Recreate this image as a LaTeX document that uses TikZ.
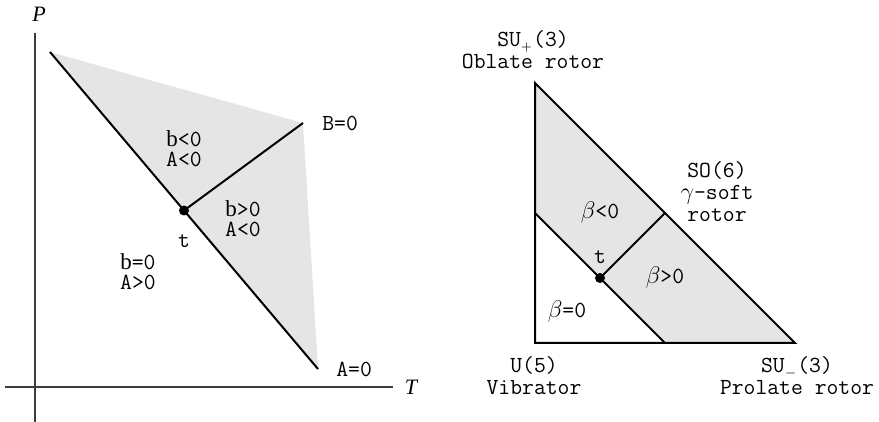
\documentclass[tikz,border=0pt]{standalone}
\usepackage{fontspec}
\newfontfamily\timesfont{Liberation Serif}
\usetikzlibrary{positioning,calc}
\definecolor{RegionGray}{RGB}{229,229,229}
\definecolor{AxisGray}{RGB}{60,60,60}

\begin{document}
\begin{tikzpicture}[x=0.5pt,y=-0.5pt, every node/.style={font=\fontsize{11.5}{11}\selectfont\ttfamily, align=center, inner sep=0pt}]
\tikzset{
  border/.style={line width=1pt, black},
  axis/.style={line width=0.8pt, AxisGray},
  region/.style={fill=RegionGray, draw=none},
  tpoint/.style={circle, fill=black, minimum size=5pt, inner sep=0pt},
  tight/.style={font=\fontsize{11.5}{10}\selectfont\ttfamily}
}
  \path[use as bounding box] (0,0) rectangle (879,422);

  % left: P--T plane
  \coordinate (Ptop) at (35,33);
  \coordinate (Pbot) at (35,422);
  \coordinate (Tleft) at (5,387);
  \coordinate (Tright) at (393,387);
  \coordinate (upper) at (50,52);
  \coordinate (B0) at (303,123);
  \coordinate (A0) at (318,369);
  \fill[region] (upper) -- (B0) -- (A0) -- cycle;
  \draw[axis] (Ptop) -- (Pbot);
  \draw[axis] (Tleft) -- (Tright);
  \node[tpoint] (t1) at ($(upper)!0.5!(A0)$) {};
  \draw[border] (upper) -- (A0);
  \draw[border] (t1.center) -- (B0);

  \node (Plabel) at (39,14) {\fontsize{11}{11}\timesfont\itshape P};
  \node (Tlabel) at (411,387) {\fontsize{11}{11}\timesfont\itshape T};
  \node[anchor=west] (Blabel) at (322,123) {B=0};
  \node[anchor=west] (Alabel) at (336,369) {A=0};
  \node[tight] (bneg) at (184,149) {{\timesfont b}<0\\A<0};
  \node[tight] (bpos) at (243,219) {{\timesfont b}>0\\A<0};
  \node (t1label) at (184,241) {t};
  \node[tight] (bzero) at (138,272) {{\timesfont b}=0\\A>0};

  % right: Casten triangle
  \coordinate (oblate) at (535,83);
  \coordinate (vib) at (535,343);
  \coordinate (prolate) at (795,343);
  \coordinate (so6) at ($(oblate)!0.5!(prolate)$);
  \coordinate (innerA) at ($(oblate)!0.5!(vib)$);
  \coordinate (innerB) at ($(vib)!0.5!(prolate)$);
  \fill[region] (oblate) -- (prolate) -- (innerB) -- (innerA) -- cycle;
  \node[tpoint] (t2) at ($(innerA)!0.5!(innerB)$) {};
  \draw[border] (oblate) -- (vib) -- (prolate) -- cycle;
  \draw[border] (innerA) -- (innerB);
  \draw[border] (t2.center) -- (so6);

  \node (oblatelabel) at (533,50) {SU$_{\scriptscriptstyle +}$(3)\\Oblate rotor};
  \node (so6label) at (717,192) {SO(6)\\$\gamma$-soft\\rotor};
  \node (vibratorlabel) at (534,376) {U(5)\\Vibrator};
  \node (prolatelabel) at (797,376) {SU$_{\scriptscriptstyle -}$(3)\\Prolate rotor};
  \node (betaneg) at (600,213) {$\beta$<0};
  \node (t2label) at (600,257) {t};
  \node (betapos) at (665,278) {$\beta$>0};
  \node (betazero) at (567,312) {$\beta$=0};
\end{tikzpicture}
\end{document}
